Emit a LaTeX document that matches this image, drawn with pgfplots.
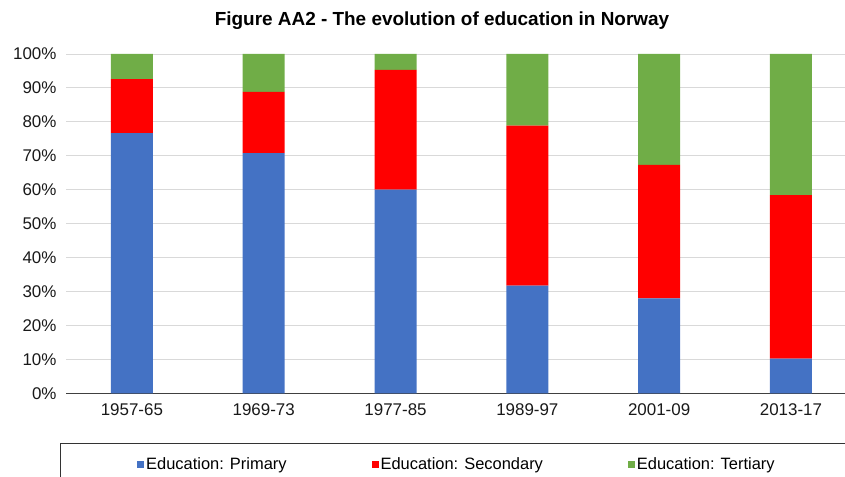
\documentclass[border=0pt]{standalone}
\usepackage{pgfplots}
\pgfplotsset{compat=1.18}
\usepackage{fontspec}
\setmainfont{Liberation Sans}
\definecolor{cblue}{HTML}{4472C4}
\definecolor{cred}{HTML}{FF0000}
\definecolor{cgreen}{HTML}{70AD47}
\begin{document}
\begin{tikzpicture}
\path[use as bounding box] (0bp,0bp) rectangle (845bp,477bp);
\begin{axis}[
  at={(66bp,83.7bp)}, anchor=south west,
  scale only axis, width=779bp, height=339.3bp,
  ybar stacked, bar width=42bp,
  xmin=-0.5, xmax=5.41, ymin=0, ymax=100,
  xtick={0,1,2,3,4,5},
  xticklabels={1957-65,1969-73,1977-85,1989-97,2001-09,2013-17},
  ytick={0,10,...,100},
  yticklabel={\pgfmathprintnumber{\tick}\%},
  /pgf/number format/assume math mode=true,
  ymajorgrids, grid style={color=black!15, line width=0.9pt},
  axis x line*=bottom, axis y line*=left,
  x axis line style={draw=black!75, line width=0.8pt},
  y axis line style={draw=none},
  xtick style={draw=none}, ytick style={draw=none},
  tick label style={font=\fontsize{17}{20}\selectfont, text=black!90},
  xticklabel style={yshift=-7bp},
  yticklabel style={xshift=-6bp},
  legend columns=3,
  legend style={at={(0.0912,-0.2084)}, anchor=west, draw=none, fill=none,
    font=\fontsize{16.5}{20}\selectfont, inner sep=0pt,
    /tikz/every even column/.append style={column sep=83bp}},
  legend image code/.code={\path[#1,draw=none] (0bp,-3.5bp) rectangle (7bp,3.5bp);},
  legend cell align=left,
]
\addplot[fill=cblue, draw=none] coordinates {(0,76.7) (1,70.8) (2,60.0) (3,31.7) (4,28.0) (5,10.2)};
\addplot[fill=cred, draw=none] coordinates {(0,15.9) (1,18.0) (2,35.3) (3,47.2) (4,39.3) (5,48.2)};
\addplot[fill=cgreen, draw=none] coordinates {(0,7.4) (1,11.2) (2,4.7) (3,21.1) (4,32.7) (5,41.6)};
\legend{Education: Primary, Education: Secondary, Education: Tertiary}
\end{axis}
\draw[black!80, line width=0.8pt] (60bp,0bp) -- (60bp,34bp) -- (845bp,34bp);
\node[font=\bfseries\fontsize{19}{23}\selectfont] at (442bp,456bp) {Figure AA2 - The evolution of education in Norway};
\end{tikzpicture}
\end{document}
